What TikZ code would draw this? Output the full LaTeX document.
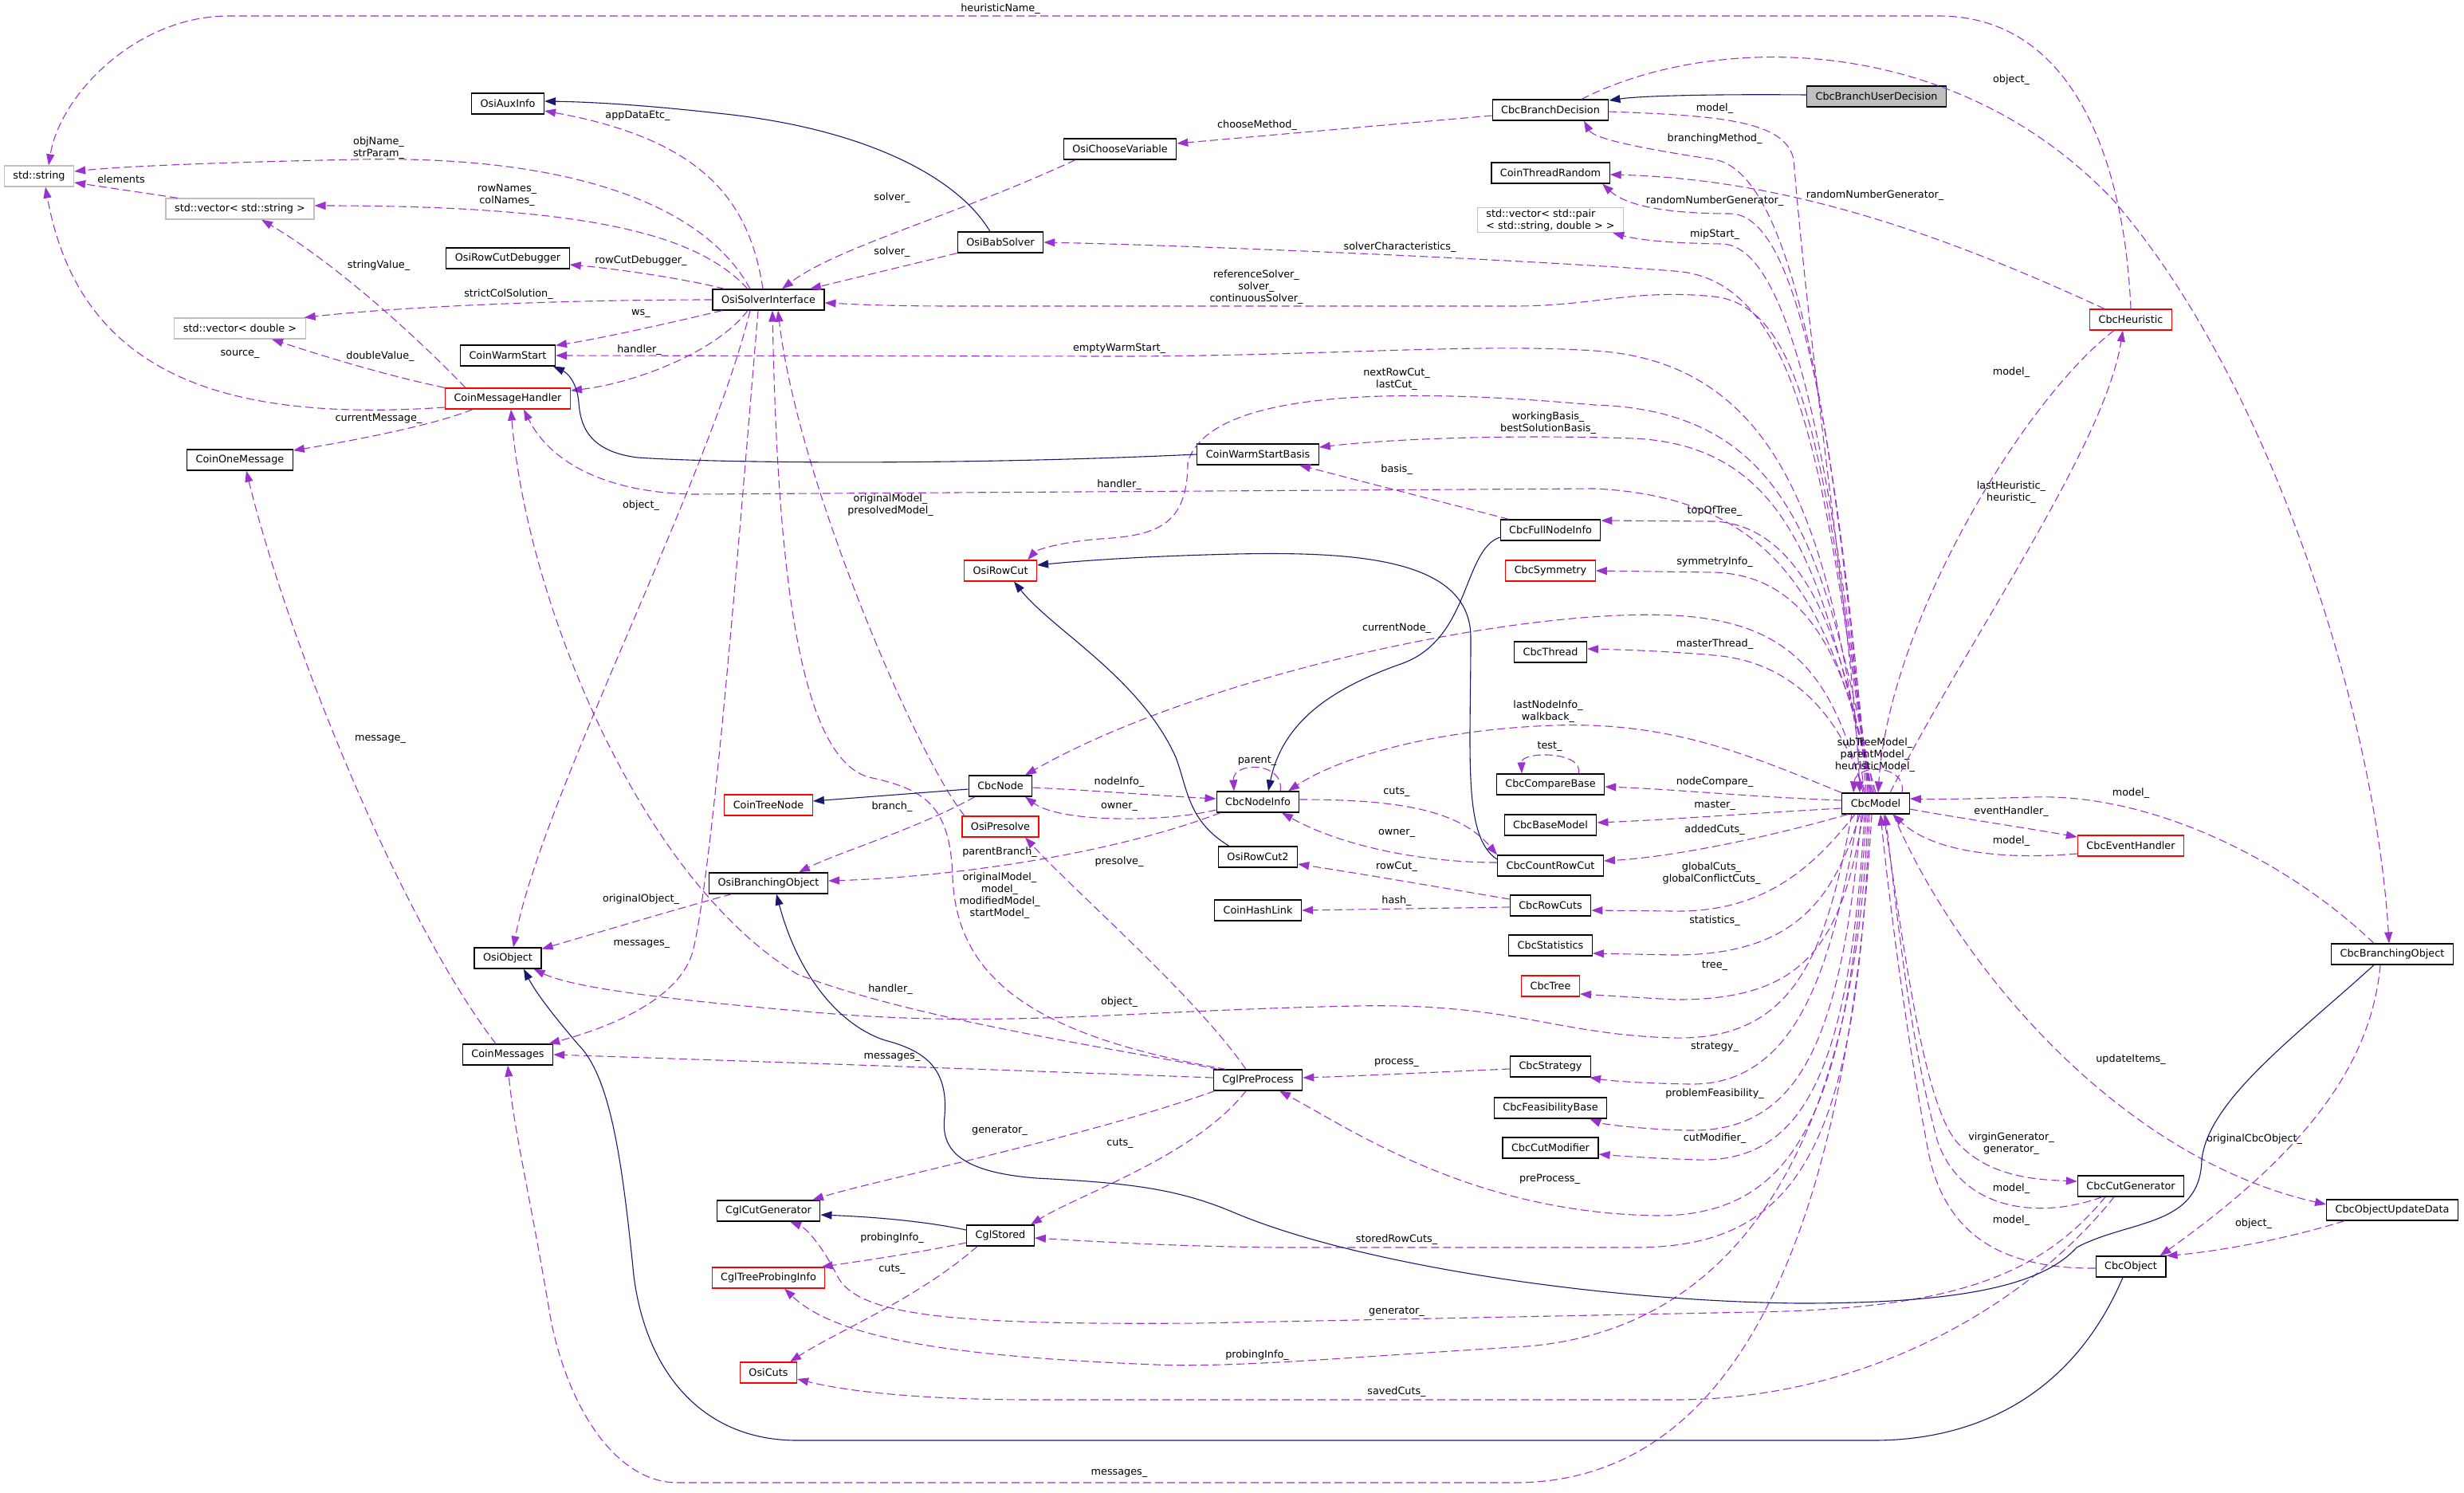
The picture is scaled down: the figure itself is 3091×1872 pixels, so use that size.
\documentclass[tikz,border=0pt]{standalone}
\usepackage{fontspec}
\setmainfont{DejaVu Sans}
\usepackage{tikz}
\usetikzlibrary{arrows.meta}
\definecolor{depcol}{HTML}{9A32CD}
\definecolor{inhcol}{HTML}{191970}
\definecolor{boxgray}{HTML}{BFBFBF}

\begin{document}
\begin{tikzpicture}[
    x=1pt, y=-1pt,
    box/.style={draw=black, fill=white, line width=1.2pt, minimum height=26pt, inner xsep=11pt, inner ysep=2pt, font=\fontsize{12.8}{15}\selectfont},
    redbox/.style={box, draw=red},
    graybox/.style={box, draw=boxgray},
    selbox/.style={box, fill=boxgray},
    lbl/.style={align=center, inner sep=0pt, font=\fontsize{12.8}{15}\selectfont},
    dep/.style={draw=depcol, line width=1.1pt, dash pattern=on 10pt off 5pt, -{Triangle[length=14pt,width=10pt]}},
    inh/.style={draw=inhcol, line width=1.1pt, -{Triangle[length=14pt,width=10pt]}}
  ]
  \useasboundingbox (0,0) rectangle (3091,1872);

  \node[graybox] (stdstr) at (49,221) {std::string};
  \node[box] (auxinfo) at (637,130) {OsiAuxInfo};
  \node[graybox] (vecstr) at (301,262) {std::vector< std::string >};
  \node[box] (rcdebug) at (637,324) {OsiRowCutDebugger};
  \node[box] (osisi) at (964,376) {OsiSolverInterface};
  \node[graybox] (vecdbl) at (301,412) {std::vector< double >};
  \node[box] (warmst) at (637,446) {CoinWarmStart};
  \node[redbox] (msghdl) at (637,500) {CoinMessageHandler};
  \node[box] (onemsg) at (301,577) {CoinOneMessage};
  \node[box] (choosevar) at (1405,187) {OsiChooseVariable};
  \node[box] (babslv) at (1255,304) {OsiBabSolver};
  \node[box] (branchdec) at (1945,138) {CbcBranchDecision};
  \node[selbox] (userdec) at (2354,121) {CbcBranchUserDecision};
  \node[box] (thrrand) at (1945,217) {CoinThreadRandom};
  \node[graybox, align=left] (vecpair) at (1945,276) {std::vector< std::pair\\< std::string, double > >};
  \node[box] (wsbasis) at (1578,570) {CoinWarmStartBasis};
  \node[redbox] (heur) at (2673,401) {CbcHeuristic};
  \node[redbox] (rowcut) at (1255,716) {OsiRowCut};
  \node[box] (fullni) at (1945,665) {CbcFullNodeInfo};
  \node[redbox] (symm) at (1945,716) {CbcSymmetry};
  \node[box] (thread) at (1945,818) {CbcThread};
  \node[box] (cbcnode) at (1255,986) {CbcNode};
  \node[redbox] (treenode) at (964,1010) {CoinTreeNode};
  \node[box] (nodeinfo) at (1578,1006) {CbcNodeInfo};
  \node[box] (cmpbase) at (1945,984) {CbcCompareBase};
  \node[redbox] (presolve) at (1255,1037) {OsiPresolve};
  \node[box] (basemodel) at (1945,1035) {CbcBaseModel};
  \node[box] (osibranch) at (964,1108) {OsiBranchingObject};
  \node[box] (rowcut2) at (1578,1075) {OsiRowCut2};
  \node[box] (countrc) at (1945,1086) {CbcCountRowCut};
  \node[box] (hashlink) at (1578,1142) {CoinHashLink};
  \node[box] (rowcuts) at (1945,1136) {CbcRowCuts};
  \node[box] (stats) at (1945,1186) {CbcStatistics};
  \node[redbox] (tree) at (1945,1237) {CbcTree};
  \node[box] (model) at (2353,1008) {CbcModel};
  \node[redbox] (evhandler) at (2673,1061) {CbcEventHandler};
  \node[box] (cbcbranch) at (3001,1197) {CbcBranchingObject};
  \node[box] (osiobj) at (637,1202) {OsiObject};
  \node[box] (messages) at (637,1323) {CoinMessages};
  \node[box] (preproc) at (1578,1355) {CglPreProcess};
  \node[box] (strategy) at (1945,1338) {CbcStrategy};
  \node[box] (feasbase) at (1945,1390) {CbcFeasibilityBase};
  \node[box] (cutmod) at (1945,1440) {CbcCutModifier};
  \node[box] (cutgen) at (964,1519) {CglCutGenerator};
  \node[box] (stored) at (1255,1550) {CglStored};
  \node[redbox] (probinfo) at (964,1603) {CglTreeProbingInfo};
  \node[redbox] (osicuts) at (964,1722) {OsiCuts};
  \node[box] (cbccutgen) at (2673,1488) {CbcCutGenerator};
  \node[box] (objupd) at (3001,1518) {CbcObjectUpdateData};
  \node[box] (cbcobj) at (2673,1589) {CbcObject};

  \draw[dep] (heur.north) .. controls (2665,200) and (2600,20) .. (2432,20) -- (287,20) .. controls (170,20) and (75,120) .. ([xshift=12pt]stdstr.north) node[lbl] (lheurname) at (1255,11) {heuristicName\_};
  \draw[dep] ([xshift=-78pt]vecstr.north) -- ([yshift=-8pt]stdstr.east) node[lbl] (lelem) at (152,225) {elements};
  \draw[dep] ([xshift=-23pt]osisi.north) .. controls (880,250) and (700,195) .. (450,200) .. controls (300,203) and (160,208) .. ([yshift=6pt]stdstr.east) node[lbl] (lobjname) at (475,186) {objName\_\\strParam\_};
  \draw[dep] ([xshift=-26pt]osisi.north) .. controls (880,300) and (760,258) .. ([yshift=4pt]vecstr.east) node[lbl] (lrownames) at (636,245) {rowNames\_\\colNames\_};
  \draw[dep] ([xshift=-53pt]msghdl.north) .. controls (520,420) and (420,330) .. ([xshift=27pt]vecstr.south) node[lbl] (lstrval) at (475,333) {stringValue\_};
  \draw[dep] (msghdl.north west) .. controls (480,470) and (400,445) .. ([xshift=40pt]vecdbl.south) node[lbl] (ldblval) at (477,447) {doubleValue\_};
  \draw[dep] ([yshift=-11pt]msghdl.west) .. controls (280,530) and (100,470) .. ([xshift=8pt]stdstr.south) node[lbl] (lsource) at (301,444) {source\_};
  \draw[dep] ([xshift=-44pt]msghdl.south) .. controls (540,535) and (430,555) .. ([yshift=12pt]onemsg.east) node[lbl] (lcurmsg) at (475,525) {currentMessage\_};
  \draw[dep] ([xshift=-7pt]osisi.north) .. controls (940,250) and (880,175) .. ([yshift=-9pt]auxinfo.east) node[lbl] (lappdata) at (800,145) {appDataEtc\_};
  \draw[dep] ([xshift=-55pt]osisi.north) .. controls (860,350) and (780,338) .. ([yshift=-8pt]rcdebug.east) node[lbl] (lrcdebug) at (804,327) {rowCutDebugger\_};
  \draw[dep] (osisi.west) .. controls (700,376) and (500,385) .. ([xshift=-2pt]vecdbl.north east) node[lbl] (lstrictcol) at (638,369) {strictColSolution\_};
  \draw[dep] ([xshift=-58pt]osisi.south) .. controls (820,410) and (750,425) .. ([yshift=-1pt]warmst.north east) node[lbl] (lws) at (804,393) {ws\_};
  \draw[dep] ([xshift=-26pt]osisi.south) .. controls (900,440) and (800,480) .. ([yshift=10pt]msghdl.east) node[lbl] (lhandler1) at (802,439) {handler\_};
  \draw[dep] ([xshift=-14pt]model.north) .. controls (2300,700) and (2250,455) .. (2000,440) .. controls (1850,430) and (1650,447) .. (1400,447) -- (warmst.east) node[lbl] (lemptyws) at (1404,437) {emptyWarmStart\_};
  \draw[dep] ([xshift=-23pt]osisi.south) .. controls (890,600) and (680,1000) .. ([xshift=7pt]osiobj.north) node[lbl] (lobject1) at (804,634) {object\_};
  \draw[dep] ([xshift=-13pt]osisi.south) .. controls (925,700) and (895,1080) .. (870,1190) .. controls (855,1255) and (760,1290) .. ([xshift=-6pt]messages.north east) node[lbl] (lmessages1) at (805,1184) {messages\_};
  \draw[dep] ([xshift=-56pt]choosevar.south) .. controls (1200,270) and (1050,310) .. ([xshift=17pt]osisi.north) node[lbl] (lsolver1) at (1119,248) {solver\_};
  \draw[dep] (babslv.south west) -- ([xshift=52pt]osisi.north) node[lbl] (lsolver2) at (1119,316) {solver\_};
  \draw[dep] ([yshift=-7pt]branchdec.west) -- ([yshift=7pt]choosevar.east) node[lbl] (lchoose) at (1577,157) {chooseMethod\_};
  \draw[dep] ([xshift=-8pt]model.north) .. controls (2290,600) and (2260,350) .. (2100,340) .. controls (1900,325) and (1500,308) .. (babslv.east) node[lbl] (lsolverchar) at (1756,310) {solverCharacteristics\_};
  \draw[dep] ([xshift=-6pt]model.north) .. controls (2290,600) and (2270,385) .. (2150,372) .. controls (2050,362) and (2000,384) .. (1900,384) -- (1200,384) .. controls (1100,384) and (1060,381) .. ([yshift=-4pt]osisi.east) node[lbl] (lrefsolver) at (1576,360) {referenceSolver\_\\solver\_\\continuousSolver\_};
  \draw[dep] ([xshift=-4pt]model.north) .. controls (2290,750) and (2260,560) .. (2050,550) .. controls (1900,545) and (1750,550) .. ([yshift=9pt]wsbasis.east) node[lbl] (lbasis2) at (1942,531) {workingBasis\_\\bestSolutionBasis\_};
  \draw[dep] ([xshift=-2pt]model.north) .. controls (2290,700) and (2250,515) .. (2000,508) .. controls (1800,490) and (1520,480) .. (1490,580) .. controls (1490,660) and (1450,672) .. (1380,676) .. controls (1330,680) and (1300,690) .. ([xshift=-12pt]rowcut.north east) node[lbl] (lnextcut) at (1752,476) {nextRowCut\_\\lastCut\_};
  \draw[dep] ([xshift=11pt]fullni.north west) -- ([xshift=52pt]wsbasis.south) node[lbl] (lbasis) at (1752,589) {basis\_};
  \draw[dep] (model.north) .. controls (2300,800) and (2260,625) .. (2000,613) -- (870,620) .. controls (760,618) and (690,580) .. ([xshift=20pt]msghdl.south) node[lbl] (lhandler2) at (1404,608) {handler\_};
  \draw[dep] ([xshift=-12pt]model.north) .. controls (2300,500) and (2245,215) .. (2150,200) .. controls (2070,188) and (2000,175) .. ([xshift=42pt]branchdec.south) node[lbl] (lbranchmeth) at (2151,174) {branchingMethod\_};
  \draw[dep] ([yshift=-2pt]branchdec.east) .. controls (2150,145) and (2240,150) .. (2250,200) .. controls (2275,500) and (2325,800) .. ([xshift=-20pt]model.north) node[lbl] (lmodel1) at (2151,136) {model\_};
  \draw[dep] ([xshift=39pt]branchdec.north) .. controls (2150,40) and (2450,40) .. (2650,250) .. controls (2850,480) and (2980,900) .. ([xshift=-4pt]cbcbranch.north) node[lbl] (lobject2) at (2523,100) {object\_};
  \draw[dep] ([xshift=-10pt]model.north) .. controls (2300,500) and (2250,268) .. (2170,268) .. controls (2090,268) and (2040,258) .. ([xshift=65pt]thrrand.south) node[lbl] (lrng1) at (2151,252) {randomNumberGenerator\_};
  \draw[dep] ([xshift=-33pt]heur.north) .. controls (2450,300) and (2250,225) .. ([yshift=-2pt]thrrand.east) node[lbl] (lrng2) at (2352,245) {randomNumberGenerator\_};
  \draw[dep] ([xshift=-8pt]model.north) .. controls (2300,600) and (2250,308) .. (2160,306) .. controls (2100,305) and (2060,302) .. ([xshift=-14pt]vecpair.south east) node[lbl] (lmipstart) at (2151,294) {mipStart\_};
  \draw[dep] ([xshift=-6pt]model.north) .. controls (2320,850) and (2280,660) .. (2150,654) -- ([yshift=12pt]fullni.east) node[lbl] (ltopoftree) at (2151,641) {topOfTree\_};
  \draw[dep] ([xshift=-4pt]model.north) .. controls (2320,850) and (2280,722) .. (2150,718) -- (symm.east) node[lbl] (lsymm) at (2151,705) {symmetryInfo\_};
  \draw[dep] ([xshift=-16pt]model.north) .. controls (2300,850) and (2250,780) .. (2100,772) .. controls (1900,762) and (1500,850) .. ([xshift=31pt]cbcnode.north) node[lbl] (lcurnode) at (1752,788) {currentNode\_};
  \draw[dep] ([xshift=-14pt]model.north) .. controls (2310,900) and (2250,830) .. (2150,822) .. controls (2080,816) and (2030,815) .. ([yshift=4pt]thread.east) node[lbl] (lmasterthr) at (2151,808) {masterThread\_};
  \draw[dep] (model.north west) .. controls (2200,950) and (2100,905) .. (1950,910) .. controls (1800,915) and (1680,950) .. ([xshift=38pt]nodeinfo.north) node[lbl] (llastni) at (1942,893) {lastNodeInfo\_\\walkback\_};
  \draw[dep] ([xshift=28pt]nodeinfo.north) .. controls (1612,955) and (1546,955) .. ([xshift=-30pt]nodeinfo.north) node[lbl] (lparent) at (1577,954) {parent\_};
  \draw[dep] ([xshift=35pt]cmpbase.north) .. controls (1988,942) and (1908,942) .. ([xshift=-36pt]cmpbase.north) node[lbl] (ltest) at (1944,936) {test\_};
  \draw[dep] ([xshift=33pt]model.north) .. controls (2392,958) and (2328,958) .. ([xshift=-28pt]model.north) node[lbl] (lsubtree) at (2352,947) {subTreeModel\_\\parentModel\_\\heuristicModel\_};
  \draw[dep] ([yshift=-2pt]cbcnode.east) .. controls (1380,992) and (1450,998) .. ([yshift=4pt]nodeinfo.west) node[lbl] (lnodeinfo) at (1404,981) {nodeInfo\_};
  \draw[dep] ([yshift=-10pt]nodeinfo.west) .. controls (1460,1032) and (1330,1032) .. ([xshift=31pt]cbcnode.south) node[lbl] (lowner1) at (1404,1012) {owner\_};
  \draw[dep] ([xshift=-32pt]cbcnode.south) .. controls (1150,1040) and (1050,1070) .. ([xshift=38pt]osibranch.north) node[lbl] (lbranch) at (1119,1012) {branch\_};
  \draw[dep] ([xshift=-47pt]nodeinfo.south) .. controls (1400,1070) and (1200,1100) .. ([yshift=3pt]osibranch.east) node[lbl] (lparentbr) at (1254,1069) {parentBranch\_};
  \draw[dep] ([yshift=3pt]nodeinfo.east) .. controls (1750,1003) and (1830,1015) .. (countrc.north west) node[lbl] (lcuts1) at (1752,993) {cuts\_};
  \draw[dep] ([yshift=4pt]countrc.west) .. controls (1780,1082) and (1680,1060) .. ([xshift=30pt]nodeinfo.south) node[lbl] (lowner2) at (1752,1045) {owner\_};
  \draw[dep] ([yshift=8pt]rowcuts.west) .. controls (1800,1112) and (1700,1095) .. ([yshift=-9pt]rowcut2.east) node[lbl] (lrowcut) at (1752,1087) {rowCut\_};
  \draw[dep] ([yshift=-2pt]rowcuts.west) -- (hashlink.east) node[lbl] (lhash) at (1752,1130) {hash\_};
  \draw[dep] ([yshift=4pt]model.west) .. controls (2200,1000) and (2100,990) .. ([yshift=-3pt]cmpbase.east) node[lbl] (lnodecmp) at (2151,981) {nodeCompare\_};
  \draw[dep] ([yshift=-6pt]model.west) .. controls (2200,1020) and (2100,1028) .. ([yshift=3pt]basemodel.east) node[lbl] (lmaster) at (2151,1010) {master\_};
  \draw[dep] ([xshift=-35pt]model.south) .. controls (2220,1050) and (2100,1075) .. ([yshift=6pt]countrc.east) node[lbl] (laddedcuts) at (2151,1041) {addedCuts\_};
  \draw[dep] ([xshift=-26pt]model.south) .. controls (2280,1080) and (2220,1145) .. (2100,1143) -- ([yshift=-6pt]rowcuts.east) node[lbl] (lglobalcuts) at (2147,1096) {globalCuts\_\\globalConflictCuts\_};
  \draw[dep] ([xshift=-20pt]model.south) .. controls (2300,1130) and (2250,1198) .. (2100,1198) -- ([yshift=-10pt]stats.east) node[lbl] (lstats) at (2151,1155) {statistics\_};
  \draw[dep] ([xshift=-16pt]model.south) .. controls (2310,1190) and (2260,1255) .. (2100,1254) -- ([yshift=-10pt]tree.east) node[lbl] (ltree) at (2151,1211) {tree\_};
  \draw[dep] ([yshift=-7pt]model.east) .. controls (2450,1025) and (2550,1040) .. ([yshift=11pt]evhandler.west) node[lbl] (levhandler) at (2523,1018) {eventHandler\_};
  \draw[dep] ([yshift=-10pt]evhandler.west) .. controls (2500,1080) and (2420,1065) .. ([xshift=22pt]model.south) node[lbl] (lmodel2) at (2523,1055) {model\_};
  \draw[dep] ([xshift=-23pt]cbcbranch.north) .. controls (2870,1080) and (2700,995) .. (2550,1000) .. controls (2480,1002) and (2430,1003) .. ([yshift=6pt]model.east) node[lbl] (lmodel3) at (2673,995) {model\_};
  \draw[dep] ([xshift=-21pt]heur.south) .. controls (2540,500) and (2370,780) .. ([xshift=3pt]model.north) node[lbl] (lmodel4) at (2523,467) {model\_};
  \draw[dep] ([xshift=18pt]model.north) .. controls (2470,800) and (2640,560) .. ([xshift=-10pt]heur.south) node[lbl] (llastheur) at (2523,618) {lastHeuristic\_\\heuristic\_};
  \draw[dep] ([xshift=22pt]model.south) .. controls (2450,1200) and (2650,1450) .. ([yshift=7pt]objupd.west) node[lbl] (lupdate) at (2673,1329) {updateItems\_};
  \draw[dep] ([xshift=-60pt]objupd.south) .. controls (2850,1560) and (2760,1572) .. (cbcobj.north east) node[lbl] (lobject3) at (2827,1535) {object\_};
  \draw[dep] ([xshift=-15pt]cbcbranch.south) .. controls (2975,1330) and (2900,1440) .. ([xshift=-8pt]cbcobj.north east) node[lbl] (lorigcbc) at (2828,1429) {originalCbcObject\_};
  \draw[dep] ([xshift=-32pt]cbccutgen.south) .. controls (2560,1600) and (2450,1642) .. (2200,1646) -- (1500,1660) .. controls (1200,1662) and (1075,1652) .. (1050,1600) .. controls (1030,1560) and (1010,1540) .. ([xshift=27pt]cutgen.south) node[lbl] (lgenerator1) at (1752,1645) {generator\_};
  \draw[dep] ([xshift=-10pt]model.south) .. controls (2330,1400) and (2200,1675) .. (1900,1690) .. controls (1700,1702) and (1550,1716) .. (1450,1712) .. controls (1200,1702) and (1050,1680) .. ([xshift=20pt]probinfo.south) node[lbl] (lprobing1) at (1577,1700) {probingInfo\_};
  \draw[dep] ([yshift=-9pt]stored.west) .. controls (1150,1572) and (1080,1582) .. ([xshift=-5pt]probinfo.north east) node[lbl] (lprobing2) at (1119,1553) {probingInfo\_};
  \draw[dep] ([xshift=-29pt]stored.south) .. controls (1150,1630) and (1050,1670) .. ([xshift=27pt]osicuts.north) node[lbl] (lcuts2) at (1119,1592) {cuts\_};
  \draw[dep] ([xshift=-15pt]preproc.south) .. controls (1500,1450) and (1350,1500) .. ([xshift=38pt]stored.north) node[lbl] (lcuts3) at (1405,1434) {cuts\_};
  \draw[dep] ([xshift=-54pt]preproc.south) .. controls (1350,1430) and (1100,1480) .. ([xshift=55pt]cutgen.north) node[lbl] (lgenerator2) at (1254,1418) {generator\_};
  \draw[dep] ([yshift=3pt]preproc.west) .. controls (1200,1340) and (900,1330) .. (messages.east) node[lbl] (lmessages2) at (1119,1326) {messages\_};
  \draw[dep] ([xshift=-40pt]preproc.north) .. controls (1300,1300) and (1200,1230) .. (1195,1100) .. controls (1192,1010) and (1160,990) .. (1090,975) .. controls (1000,950) and (975,700) .. ([xshift=5pt]osisi.south) node[lbl] (lorigmodel1) at (1254,1124) {originalModel\_\\model\_\\modifiedModel\_\\startModel\_};
  \draw[dep] ([xshift=-45pt]presolve.north) .. controls (1150,950) and (1000,600) .. ([xshift=12pt]osisi.south) node[lbl] (lorigmodel2) at (1117,634) {originalModel\_\\presolvedModel\_};
  \draw[dep] ([xshift=-15pt]preproc.north) .. controls (1500,1250) and (1350,1120) .. ([xshift=31pt]presolve.south) node[lbl] (lpresolve) at (1404,1081) {presolve\_};
  \draw[dep] ([xshift=-50pt]preproc.north) .. controls (1400,1315) and (1150,1280) .. (1000,1222) .. controls (800,1100) and (660,750) .. ([xshift=4pt]msghdl.south) node[lbl] (lhandler3) at (1117,1241) {handler\_};
  \draw[dep] ([xshift=-30pt]model.south) .. controls (2290,1200) and (2250,1305) .. (2100,1302) .. controls (1950,1298) and (1900,1258) .. (1700,1262) .. controls (1400,1268) and (1250,1292) .. (1000,1268) .. controls (850,1255) and (720,1240) .. ([xshift=-10pt]osiobj.south east) node[lbl] (lobject4) at (1404,1257) {object\_};
  \draw[dep] ([xshift=-5pt]model.south) .. controls (2320,1500) and (2200,1860) .. (1900,1860) -- (850,1860) .. controls (770,1860) and (710,1760) .. (690,1650) .. controls (665,1500) and (645,1420) .. (messages.south) node[lbl] (lmessages3) at (1404,1848) {messages\_};
  \draw[dep] ([xshift=-15pt]messages.north) .. controls (500,1150) and (360,800) .. ([xshift=8pt]onemsg.south) node[lbl] (lmessage) at (477,927) {message\_};
  \draw[dep] ([yshift=-3pt]strategy.west) .. controls (1800,1345) and (1700,1350) .. ([yshift=3pt]preproc.east) node[lbl] (lprocess) at (1752,1333) {process\_};
  \draw[dep] ([xshift=-22pt]model.south) .. controls (2300,1200) and (2260,1362) .. (2120,1360) .. controls (2060,1359) and (2020,1356) .. ([xshift=-2pt]strategy.south east) node[lbl] (lstrategy) at (2151,1313) {strategy\_};
  \draw[dep] ([xshift=-18pt]model.south) .. controls (2310,1300) and (2260,1420) .. (2120,1418) .. controls (2060,1417) and (2010,1410) .. ([xshift=-22pt]feasbase.south east) node[lbl] (lprobfeas) at (2151,1372) {problemFeasibility\_};
  \draw[dep] ([xshift=-14pt]model.south) .. controls (2320,1350) and (2260,1458) .. (2130,1455) .. controls (2070,1453) and (2030,1450) .. ([yshift=-8pt]cutmod.east) node[lbl] (lcutmod) at (2151,1428) {cutModifier\_};
  \draw[dep] ([xshift=-12pt]model.south) .. controls (2320,1400) and (2250,1525) .. (2080,1525) .. controls (1850,1522) and (1700,1420) .. ([xshift=27pt]preproc.south) node[lbl] (lpreproc) at (1944,1479) {preProcess\_};
  \draw[dep] ([xshift=-8pt]model.south) .. controls (2330,1450) and (2250,1565) .. (2050,1565) -- (1600,1565) .. controls (1450,1563) and (1350,1556) .. ([yshift=-3pt]stored.east) node[lbl] (lstoredrc) at (1752,1555) {storedRowCuts\_};
  \draw[dep] ([xshift=-21pt]cbccutgen.south) .. controls (2550,1630) and (2350,1756) .. (2100,1756) -- (1300,1756) .. controls (1150,1756) and (1060,1745) .. ([yshift=-8pt]osicuts.east) node[lbl] (lsavedcuts) at (1752,1746) {savedCuts\_};
  \draw[dep] ([xshift=10pt]model.south) .. controls (2390,1200) and (2415,1400) .. (2460,1438) .. controls (2500,1478) and (2560,1480) .. ([yshift=6pt]cbccutgen.west) node[lbl] (lvirgin) at (2523,1435) {virginGenerator\_\\generator\_};
  \draw[dep] ([xshift=-36pt]cbccutgen.south) .. controls (2560,1530) and (2460,1520) .. (2430,1430) .. controls (2395,1300) and (2380,1150) .. ([xshift=12pt]model.south) node[lbl] (lmodel5) at (2523,1491) {model\_};
  \draw[dep] ([yshift=-2pt]cbcobj.west) .. controls (2500,1592) and (2440,1540) .. (2420,1450) .. controls (2395,1320) and (2372,1150) .. ([xshift=6pt]model.south) node[lbl] (lmodel6) at (2523,1531) {model\_};
  \draw[dep] ([xshift=-46pt]osibranch.south) .. controls (850,1140) and (750,1170) .. ([yshift=-2pt]osiobj.north east) node[lbl] (lorigobj) at (804,1128) {originalObject\_};

  \draw[inh] ([yshift=2pt]userdec.west) .. controls (2150,118) and (2060,120) .. ([yshift=12pt]branchdec.east);
  \draw[inh] ([xshift=-13pt]babslv.north) .. controls (1200,220) and (1080,160) .. (900,142) .. controls (820,133) and (750,128) .. ([yshift=3pt]auxinfo.east);
  \draw[inh] (wsbasis.west) .. controls (1200,584) and (900,581) .. (800,574) .. controls (735,566) and (728,530) .. (726,505) .. controls (724,480) and (712,468) .. ([xshift=-3pt]warmst.south east);
  \draw[inh] ([yshift=-4pt]cbcnode.west) -- ([yshift=5pt]treenode.east);
  \draw[inh] ([yshift=-9pt]fullni.west) .. controls (1835,690) and (1845,800) .. (1760,832) .. controls (1680,860) and (1610,900) .. ([xshift=13pt]nodeinfo.north);
  \draw[inh] ([yshift=8pt]countrc.west) .. controls (1835,1050) and (1845,950) .. (1845,800) .. controls (1845,700) and (1700,692) .. (1550,695) .. controls (1420,698) and (1340,705) .. ([yshift=7pt]rowcut.east);
  \draw[inh] ([xshift=-36pt]rowcut2.north) .. controls (1490,1030) and (1490,990) .. (1475,950) .. controls (1430,850) and (1320,790) .. ([xshift=17pt]rowcut.south);
  \draw[inh] ([yshift=7pt]stored.west) .. controls (1150,1530) and (1080,1526) .. ([yshift=-5pt]cutgen.east);
  \draw[inh] ([xshift=-23pt]cbcbranch.south) .. controls (2880,1300) and (2770,1380) .. (2762,1455) .. controls (2760,1540) and (2670,1530) .. (2605,1565) .. controls (2560,1615) and (2450,1635) .. (2257,1635) .. controls (2000,1632) and (1700,1585) .. (1550,1522) .. controls (1480,1492) and (1420,1484) .. (1300,1478) .. controls (1200,1470) and (1180,1440) .. (1185,1400) .. controls (1190,1340) and (1160,1318) .. (1110,1305) .. controls (1050,1285) and (1000,1220) .. ([xshift=10pt]osibranch.south);
  \draw[inh] ([xshift=-10pt]cbcobj.south) .. controls (2600,1750) and (2480,1807) .. (2350,1807) -- (1000,1807) .. controls (880,1807) and (810,1720) .. (795,1600) .. controls (780,1450) and (765,1350) .. (725,1310) .. controls (695,1275) and (672,1245) .. ([xshift=20pt]osiobj.south);
\end{tikzpicture}
\end{document}
